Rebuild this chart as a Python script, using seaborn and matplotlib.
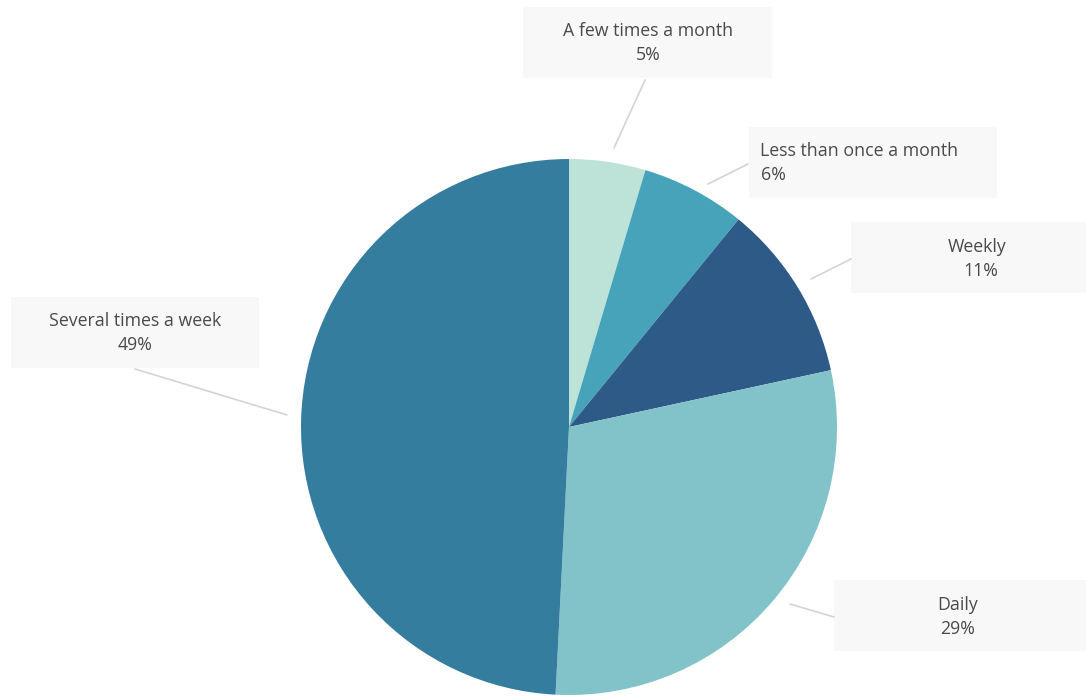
import matplotlib
matplotlib.use("Agg")
import matplotlib.pyplot as plt
from matplotlib.patches import Rectangle
import seaborn as sns

# Data (clockwise from 12 o'clock)
categories = ["A few times a month", "Less than once a month", "Weekly", "Daily", "Several times a week"]
shares = [4.6, 6.3, 10.7, 29.2, 49.2]
colors = ["#bde3d9", "#47a3ba", "#2d5a86", "#82c3c9", "#357d9f"]

sns.set_theme(style="white")
plt.rcParams["font.family"] = ["Open Sans", "DejaVu Sans"]

W, H = 1086, 696
fig = plt.figure(figsize=(W / 100, H / 100), dpi=100)
ax = fig.add_axes([0, 0, 1, 1])
ax.set_xlim(0, W)
ax.set_ylim(0, H)
ax.set_aspect("equal")
ax.axis("off")

cx, cy, r = 569, H - 427, 268
ax.pie(shares, colors=colors, startangle=90, counterclock=False,
       center=(cx, cy), radius=r, wedgeprops=dict(linewidth=0), frame=True)
ax.set_xlim(0, W)
ax.set_ylim(0, H)
ax.axis("off")

# label layout: box (x0, y0, x1, y1) in pixel coords, text anchor, alignment, leader
layout = [
    dict(box=(523, 7, 772, 78), tx=648, ha="center", line=((645, 80), (614, 148))),
    dict(box=(749, 127, 997, 198), tx=760, ha="left", line=((748, 164), (708, 184))),
    dict(box=(851, 222, 1086, 293), tx=1006, ha="right", line=((851, 259), (811, 279))),
    dict(box=(834, 580, 1086, 651), tx=958, ha="center", line=((834, 617), (790, 604))),
    dict(box=(11, 297, 259, 368), tx=135, ha="center", line=((135, 369), (287, 415))),
]

txt_color = "#4a4a4a"
fs = 12.8
for cat, val, lay in zip(categories, shares, layout):
    x0, y0, x1, y1 = lay["box"]
    ax.add_patch(Rectangle((x0, H - y1), x1 - x0, y1 - y0, facecolor="#f8f8f8",
                           edgecolor="none", zorder=1))
    (lx0, ly0), (lx1, ly1) = lay["line"]
    ax.plot([lx0, lx1], [H - ly0, H - ly1], color="#d4d4d4", lw=1.2, zorder=1)
    ymid = (y0 + y1) / 2
    pct = f"{round(val)}%"
    tx = lay["tx"]
    ax.text(tx, H - (ymid - 11), cat, ha=lay["ha"], va="center", fontsize=fs,
            color=txt_color, zorder=3)
    if lay["ha"] == "left":
        ax.text(tx + 1, H - (ymid + 13), pct, ha="left", va="center", fontsize=fs,
                color=txt_color, zorder=3)
    elif lay["ha"] == "right":
        ax.text(tx - 25, H - (ymid + 13), pct, ha="center", va="center", fontsize=fs,
                color=txt_color, zorder=3)
    else:
        ax.text(tx, H - (ymid + 13), pct, ha="center", va="center", fontsize=fs,
                color=txt_color, zorder=3)

fig.savefig("out.png", dpi=100)
